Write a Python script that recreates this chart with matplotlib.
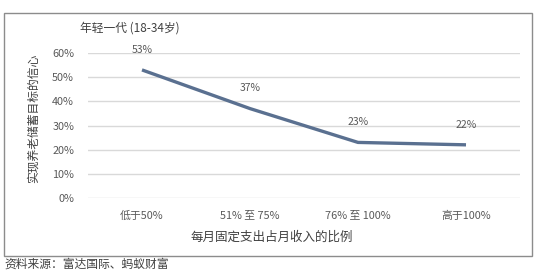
import matplotlib
matplotlib.use("Agg")
import matplotlib.pyplot as plt
from matplotlib.patches import Rectangle

plt.rcParams['font.family'] = ['Noto Sans CJK SC', 'DejaVu Sans']

categories = ["低于50%", "51% 至 75%", "76% 至 100%", "高于100%"]
confidence = [53, 37, 23, 22]
yticks = [0, 10, 20, 30, 40, 50, 60]

W, H = 536, 279
fig = plt.figure(figsize=(W / 100, H / 100), dpi=100)
fig.patch.set_facecolor("white")

# outer chart frame
fig.patches.append(Rectangle((4 / W, 1 - 256 / H), 528 / W, 243 / H,
                             transform=fig.transFigure, fill=False,
                             edgecolor="#8c8c8c", linewidth=1.0))

ax = fig.add_axes([88 / W, 1 - 198 / H, 432 / W, (198 - 53) / H])
ax.set_xlim(-0.5, len(categories) - 0.5)
ax.set_ylim(0, 60)
for s in ax.spines.values():
    s.set_visible(False)
ax.set_yticks(yticks)
ax.set_yticklabels([f"{v}%" for v in yticks])
ax.yaxis.grid(True, color="#d9d9d9", linewidth=1.0)
ax.set_axisbelow(True)
ax.tick_params(axis="both", length=0, labelsize=7.8, colors="#595959")
ax.tick_params(axis="y", pad=10)
ax.tick_params(axis="x", pad=9)
ax.set_xticks(range(len(categories)))
ax.set_xticklabels(categories)

xs = list(range(len(categories)))
ax.plot(xs, confidence, color="#5a7090", linewidth=2.4, solid_capstyle="butt")
for x, v in zip(xs, confidence):
    ax.annotate(f"{v}%", (x, v), xytext=(0, 11), textcoords="offset points",
                ha="center", va="bottom", fontsize=7.5, color="#595959")

fig.text(272 / W, 1 - 237 / H, "每月固定支出占月收入的比例", fontsize=9,
         color="#404040", ha="center", va="center")
fig.text(33 / W, 1 - 118 / H, "实现养老储蓄目标的信心", fontsize=8.5,
         color="#404040", ha="center", va="center", rotation=90)

fig.text(80 / W, 1 - 28 / H, "年轻一代 (18-34岁)", fontsize=8.5, color="#404040",
         ha="left", va="center")
fig.text(4 / W, 1 - 264 / H, "资料来源：富达国际、蚂蚁财富", fontsize=8.5,
         color="#404040", ha="left", va="center")

fig.savefig("out.png", dpi=100)
